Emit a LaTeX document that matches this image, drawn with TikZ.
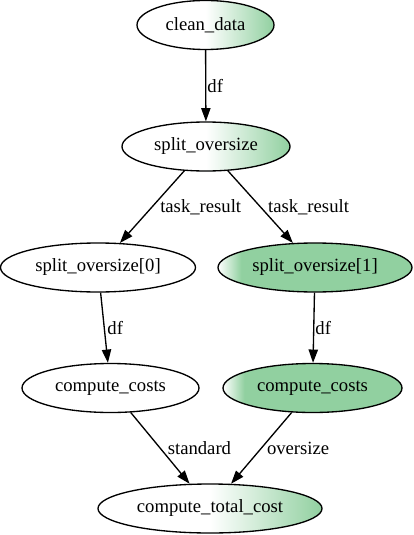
\documentclass[tikz,border=0pt]{standalone}
\usepackage{fontspec}
\setmainfont{Liberation Serif}
\usetikzlibrary{shapes.geometric,arrows.meta}
\definecolor{gr}{RGB}{145,208,160}
\pgfdeclarehorizontalshading{halfgreen}{100bp}{color(0bp)=(white); color(50bp)=(white); color(75bp)=(gr); color(100bp)=(gr)}
\pgfdeclarehorizontalshading{leftgreen}{100bp}{color(0bp)=(white); color(25bp)=(white); color(31bp)=(gr); color(100bp)=(gr)}
\begin{document}
\begin{tikzpicture}[x=1pt,y=-1pt,
  every node/.style={font=\fontsize{18.67}{22}\selectfont},
  nd/.style={ellipse, draw, line width=1.33pt, inner sep=0pt, minimum height=49pt},
  plain/.style={nd, fill=white},
  half/.style={nd, shading=halfgreen},
  lgr/.style={nd, shading=leftgreen},
  edge/.style={line width=1.33pt, -{Triangle[length=13.3pt,width=9.3pt]}},
  lbl/.style={pos=0.5, anchor=west, inner sep=0pt}]
\useasboundingbox (0,0) rectangle (413,535);
\node[half, minimum width=137pt] (clean) at (205.5,25) {clean\_data};
\node[half, minimum width=168pt] (split) at (206,146.5) {split\_oversize};
\node[plain, minimum width=195pt] (s0) at (98,267.5) {split\_oversize[0]};
\node[lgr, minimum width=194pt] (s1) at (315,267.5) {split\_oversize[1]};
\node[plain, minimum width=177pt] (c0) at (110.5,388) {compute\_costs};
\node[lgr, minimum width=179pt] (c1) at (312.5,388) {compute\_costs};
\node[half, minimum width=224pt] (total) at (210,508.5) {compute\_total\_cost};
\draw[edge] (clean) -- node[lbl, xshift=1pt] (l1) {df} (split);
\draw[edge] (split) -- node[lbl, xshift=7.5pt] (l2) {task\_result} (s0);
\draw[edge] (split) -- node[lbl, xshift=7pt] (l3) {task\_result} (s1);
\draw[edge] (s0) -- node[lbl, xshift=2.5pt] (l4) {df} (c0);
\draw[edge] (s1) -- node[lbl, xshift=1pt] (l5) {df} (c1);
\draw[edge] (c0) -- node[lbl, xshift=7pt] (l6) {standard} (total);
\draw[edge] (c1) -- node[lbl, xshift=5pt] (l7) {oversize} (total);
\end{tikzpicture}
\end{document}
